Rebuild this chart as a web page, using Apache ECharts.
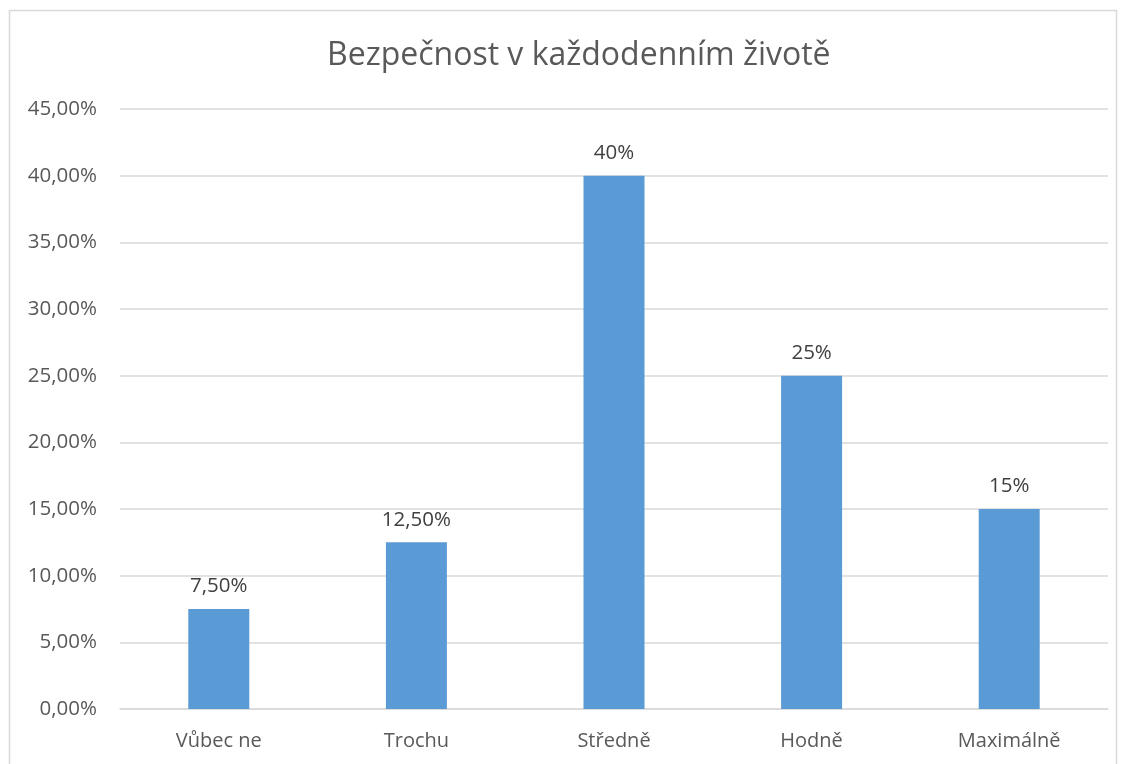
<!DOCTYPE html>
<html>
<head>
<meta charset="utf-8">
<script src="https://cdn.jsdelivr.net/npm/echarts@6/dist/echarts.min.js"></script>
<style>
html, body { margin: 0; padding: 0; background: #fff; }
#chart { width: 1125px; height: 764px; }
</style>
</head>
<body>
<div id="chart"></div>
<script>
const categories = ['Vůbec ne', 'Trochu', 'Středně', 'Hodně', 'Maximálně'];
const values = [7.5, 12.5, 40, 25, 15];
const yTicks = { min: 0, max: 45, interval: 5 };

const fontFamily = '"Open Sans", "Liberation Sans", sans-serif';

function fmtAxis (v) {
    return v.toFixed(2).replace('.', ',') + '%';
}
function fmtLabel (v) {
    return (Number.isInteger(v) ? String(v) : v.toFixed(2).replace('.', ',')) + '%';
}

const chart = echarts.init(document.getElementById('chart'));
chart.setOption({
    backgroundColor: '#fff',
    animation: false,
    textStyle: { fontFamily: fontFamily },
    title: {
        text: 'Bezpečnost v každodenním životě',
        left: 322,
        top: 35,
        textStyle: { fontFamily: fontFamily, fontSize: 32, fontWeight: 'normal', color: '#595959' }
    },
    graphic: [{
        type: 'rect',
        shape: { x: 9.5, y: 10.5, width: 1107, height: 800 },
        style: { fill: 'none', stroke: '#d9d9d9', lineWidth: 1.5 },
        silent: true
    }],
    grid: { left: 120, right: 17, top: 109, bottom: 55 },
    xAxis: {
        type: 'category',
        data: categories,
        axisLine: { lineStyle: { color: '#d9d9d9', width: 1.5 } },
        axisTick: { show: false },
        axisLabel: { color: '#595959', fontSize: 20, margin: 22, fontFamily: fontFamily }
    },
    yAxis: {
        type: 'value',
        min: yTicks.min,
        max: yTicks.max,
        interval: yTicks.interval,
        axisLine: { show: false },
        axisTick: { show: false },
        splitLine: { lineStyle: { color: '#d9d9d9', width: 1.5 } },
        axisLabel: { color: '#595959', fontSize: 20.5, margin: 23, formatter: fmtAxis, fontFamily: fontFamily }
    },
    series: [{
        type: 'bar',
        data: values,
        barWidth: 61,
        itemStyle: { color: '#5b9bd5' },
        label: {
            show: true,
            position: 'top',
            distance: 12,
            color: '#404040',
            fontSize: 20.5,
            fontFamily: fontFamily,
            formatter: function (p) { return fmtLabel(p.value); }
        }
    }]
});
</script>
</body>
</html>
